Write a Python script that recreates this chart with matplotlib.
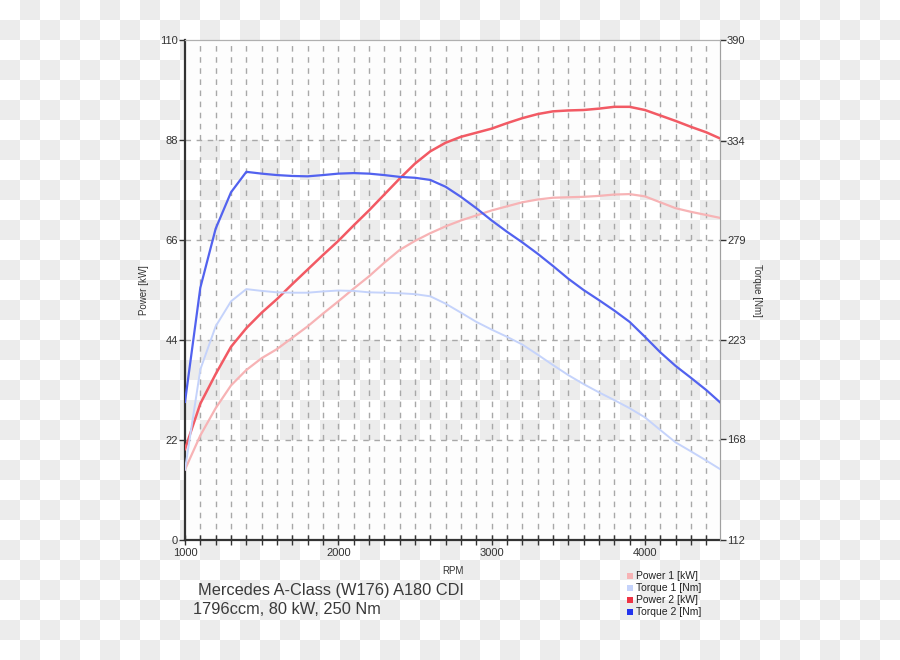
import numpy as np
import matplotlib
matplotlib.use("Agg")
import matplotlib.pyplot as plt
from matplotlib.ticker import MultipleLocator
from matplotlib.patches import Rectangle
from matplotlib.collections import PatchCollection

plt.rcParams['font.family'] = ['Liberation Sans', 'DejaVu Sans']

rpm = [1000, 1100, 1200, 1300, 1400, 1500, 1600, 1700, 1800, 1900, 2000, 2100,
       2200, 2300, 2400, 2500, 2600, 2700, 2800, 2900, 3000, 3100, 3200, 3300,
       3400, 3500, 3600, 3700, 3800, 3900, 4000, 4100, 4200, 4300, 4400, 4500]
power1 = [15.5, 23, 29, 34, 37.4, 40, 42, 44.5, 47, 49.8, 52.5, 55.3,
          58, 61, 63.8, 65.8, 67.5, 69, 70.3, 71.4, 72.5, 73.4, 74.3, 74.9,
          75.3, 75.4, 75.5, 75.7, 76, 76.1, 75.6, 74.3, 73, 72.2, 71.5, 70.8]
power2 = [20, 30, 36.5, 42.5, 46.6, 50, 53, 56.3, 59.5, 62.7, 65.8, 69.2,
          72.5, 76, 79.5, 82.8, 85.5, 87.4, 88.7, 89.6, 90.5, 91.7, 92.8, 93.7,
          94.3, 94.5, 94.6, 94.9, 95.3, 95.3, 94.6, 93.4, 92.2, 90.9, 89.7, 88.2]
torque1 = [151.2, 206.8, 230.8, 244.7, 251.5, 250.5, 249.7, 249.5, 249.5, 250.2, 250.7, 250.5,
           249.7, 249.5, 249.2, 248.7, 247.5, 243.4, 238.4, 233.3, 229, 225, 220.7, 215.1,
           209.3, 203.7, 198.7, 194.1, 189.8, 185.3, 180.2, 173.2, 166.3, 161.3, 156.2, 150.9]
torque2 = [188.8, 252.3, 285.1, 305.3, 316.7, 315.7, 314.9, 314.4, 314.2, 314.9, 315.7, 316.0,
           315.7, 314.9, 313.9, 313.4, 312.2, 308.4, 302.8, 296.5, 289.7, 283.4, 277.5, 271.2,
           264.4, 257.3, 251, 245.4, 239.6, 233.3, 225, 216.4, 208.8, 202.2, 195.4, 187.8]

power_ticks = [0, 22, 44, 66, 88, 110]
torque_ticks = [112, 168, 223, 279, 334, 390]
rpm_ticks = [1000, 2000, 3000, 4000]

title1 = "Mercedes A-Class (W176) A180 CDI"
title2 = "1796ccm, 80 kW, 250 Nm"

c_p1 = "#f7b3b5"
c_t1 = "#c5d3fb"
c_p2 = "#f25a64"
c_t2 = "#5262ef"

W, H = 900, 660
fig = plt.figure(figsize=(9, 6.6), dpi=100)
fig.patch.set_facecolor("white")

# checkerboard backdrop (transparency pattern), 20 px squares as vector patches
bg = fig.add_axes([0, 0, 1, 1], zorder=-5)
bg.set_xlim(0, W)
bg.set_ylim(H, 0)
bg.axis("off")
sq = []
for i in range(W // 20 + 1):
    for j in range(H // 20 + 1):
        if (i + j) % 2 == 1:
            sq.append(Rectangle((i * 20, j * 20), 20, 20))
bg.add_collection(PatchCollection(sq, facecolor="#ececec", edgecolor="none", lw=0,
                                  antialiased=False))

l, r, t, b = 185, 720, 40, 540
ax = fig.add_axes([l / W, 1 - b / H, (r - l) / W, (b - t) / H], zorder=1)
ax.set_facecolor("none")
ax.set_xlim(1000, 4490)
ax.set_ylim(0, 110)

for lo, hi in [(0, 22), (44, 66), (88, 110)]:
    ax.axhspan(lo, hi, color="#fdfdfd", zorder=0, lw=0)

gridc = "#a8a8a8"
for x in np.arange(1100, 4500, 100):
    ax.axvline(x, color=gridc, lw=1, ls=(0, (4, 4)), zorder=1)
for y in [22, 44, 66, 88]:
    ax.axhline(y, color=gridc, lw=1, ls=(0, (4, 4)), zorder=1)

ax.plot(rpm, power1, color=c_p1, lw=1.6, zorder=3, solid_joinstyle="round")
ax.plot(rpm, power2, color=c_p2, lw=1.8, zorder=4, solid_joinstyle="round")

ax2 = ax.twinx()
ax2.set_ylim(112, 390)
ax2.plot(rpm, torque1, color=c_t1, lw=1.4, zorder=3, solid_joinstyle="round")
ax2.plot(rpm, torque2, color=c_t2, lw=1.6, zorder=4, solid_joinstyle="round")

for s in ["left", "bottom"]:
    ax.spines[s].set_color("#333333")
    ax.spines[s].set_linewidth(1.6)
ax.spines["top"].set_color("#b0b0b0")
ax.spines["right"].set_color("#b0b0b0")
for s in ["left", "bottom"]:
    ax2.spines[s].set_visible(False)
ax2.spines["top"].set_color("#b0b0b0")
ax2.spines["right"].set_color("#a0a0a0")

ax.set_yticks(power_ticks)
ax.set_yticklabels([str(v) for v in power_ticks])
ax2.set_yticks(torque_ticks)
ax2.set_yticklabels([str(v) for v in torque_ticks])
ax.set_xticks(rpm_ticks)
ax.set_xticklabels([str(v) for v in rpm_ticks])
ax.xaxis.set_minor_locator(MultipleLocator(100))

tc = "#333333"
ax.tick_params(axis="y", direction="out", length=4, width=1, colors="#333333",
               labelsize=8, labelcolor=tc, pad=1)
ax2.tick_params(axis="y", direction="out", length=4, width=1, colors="#333333",
                labelsize=8, labelcolor=tc, pad=1)
ax.tick_params(axis="x", which="major", direction="inout", length=7, width=1,
               colors="#333333", labelsize=8, labelcolor=tc, pad=2)
ax.tick_params(axis="x", which="minor", direction="inout", length=7, width=1,
               colors="#333333")

ax.set_xlabel("RPM", fontsize=7, color=tc, labelpad=6)
ax.set_ylabel("Power [kW]", fontsize=7, color=tc, labelpad=8)
ax2.set_ylabel("Torque [Nm]", fontsize=7, color=tc, rotation=-90, labelpad=12)

fig.text(198 / W, 1 - 590 / H, title1, fontsize=11.8, color="#3a3a3a", va="center", ha="left")
fig.text(193 / W, 1 - 609 / H, title2, fontsize=11.8, color="#3a3a3a", va="center", ha="left")

leg = [("Power 1 [kW]", c_p1), ("Torque 1 [Nm]", c_t1),
       ("Power 2 [kW]", "#ee3344"), ("Torque 2 [Nm]", "#2233ee")]
for k, (lab, c) in enumerate(leg):
    y = 576 + k * 12
    fig.patches.append(Rectangle((627 / W, 1 - (y + 3) / H), 6 / W, 6 / H,
                                 transform=fig.transFigure, color=c, lw=0))
    fig.text(636 / W, 1 - y / H, lab, fontsize=7.5, color="#222222", va="center", ha="left")

fig.savefig("out.png", dpi=100)
